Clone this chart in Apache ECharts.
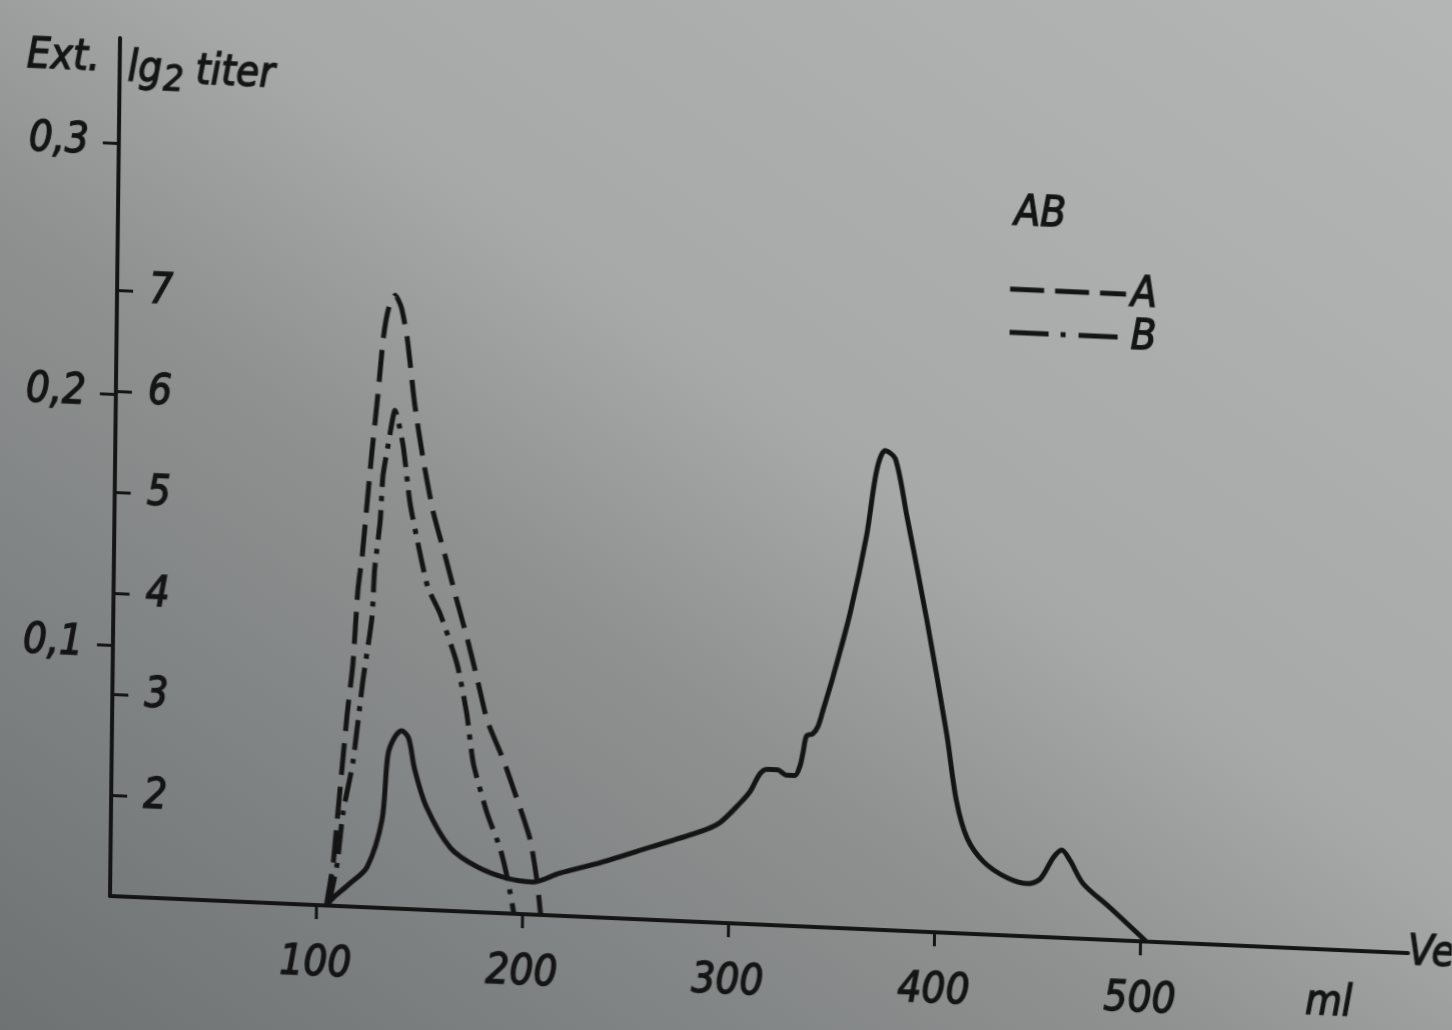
<!DOCTYPE html>
<html>
<head>
<meta charset="utf-8">
<script src="https://cdn.jsdelivr.net/npm/echarts@6/dist/echarts.min.js"></script>
<style>
html, body { margin:0; padding:0; width:1452px; height:1030px; overflow:hidden;
  background: linear-gradient(to top right, #6e7272 0%, #8f9191 40%, #a7a9a9 57%, #b4b6b5 100%); }
#chart { position:absolute; left:0; top:0; width:1452px; height:1030px;
  transform-origin: 110px 896px; transform: matrix(1, 0.044, -0.0117, 1, 0, 0); }
</style>
</head>
<body>
<div id="chart"></div>
<script>
// ---- data (elution volume in ml) ----
const solidMl  = [105,108,116,124.5,131.5,134,137,140.5,144,147,153,165,178,192.5,205,218,238,262,286,295.5,305,310,314.5,318,323,327.5,331.5,334,335.5,337,340,342.5,345,349.5,357.5,365,369.5,373.5,378.5,384.5,394.5,405,410,415.5,423.5,435,445,451,457.5,461.5,465.5,472,485,503];
const solidExt = [0,0.003,0.009,0.016,0.035,0.061,0.068,0.071,0.068,0.056,0.041,0.025,0.018,0.014,0.013,0.017,0.022,0.029,0.036,0.040,0.048,0.053,0.060,0.062,0.062,0.060,0.060,0.064,0.070,0.076,0.077,0.080,0.087,0.100,0.126,0.157,0.183,0.191,0.188,0.165,0.125,0.079,0.053,0.038,0.029,0.023,0.021,0.023,0.032,0.035,0.031,0.022,0.013,0];

const aMl    = [105,108,110,112,114,116.5,118.5,120.5,122.5,124.5,127,129.5,132,135,138,141,145,149.5,154.5,161.5,166.5,172,177,182,190,197,203.5,207,209];
const aTiter = [1.0,1.41,1.91,2.41,2.9,3.4,4.13,4.5,5.0,5.5,6.05,6.65,6.95,7.07,6.95,6.65,6.0,5.45,4.95,4.45,4.08,3.69,3.3,2.9,2.52,2.13,1.74,1.34,1.0];

const bMl    = [106,110,112.5,117,121.5,125.5,126.5,129,130,132.5,135.5,139.5,143.3,148.4,152.5,158.5,167,172,175.5,182.5,189,193,196];
const bTiter = [1.0,1.42,1.92,2.42,3.25,3.87,4.34,4.84,5.27,5.6,5.93,5.6,5.02,4.53,4.19,3.94,3.45,2.96,2.47,1.98,1.64,1.32,1.0];

const xTickValues     = [100,200,300,400,500];
const extTickValues   = [0.1,0.2,0.3];
const titerTickValues = [2,3,4,5,6,7];

// ---- chart ----
const zip = (xs, ys) => xs.map((x, i) => [x, ys[i]]);
const INK = '#141414';
const FONT = "'DejaVu Sans Condensed', 'Liberation Sans Narrow', 'DejaVu Sans', sans-serif";
const txt = { fontFamily: FONT, fontStyle: 'italic', fontWeight: 'normal', fontSize: 42, color: INK,
              textBorderColor: INK, textBorderWidth: 1.3 };

const chart = echarts.init(document.getElementById('chart'), null, { renderer: 'canvas' });
chart.setOption({
  animation: false,
  backgroundColor: 'transparent',
  grid: { left: 110, right: 44, top: 38, bottom: 134, containLabel: false, outerBoundsMode: 'none' },
  title: { text: 'AB', left: 1006, top: 153, padding: 0, textStyle: Object.assign({}, txt) },
  legend: {
    data: [
      { name: 'A', lineStyle: { type: [34, 11], width: 5, color: INK } },
      { name: 'B', lineStyle: { type: [39, 12, 5, 13], width: 5, color: INK } }
    ],
    orient: 'vertical', left: 1000, top: 228, padding: 0,
    itemWidth: 116, itemHeight: 20, itemGap: 0, selectedMode: false,
    itemStyle: { color: 'rgba(0,0,0,0)', borderWidth: 0, opacity: 0 },
    textStyle: Object.assign({}, txt, { lineHeight: 43 })
  },
  xAxis: {
    type: 'value', min: 0, max: 630,
    name: 'Ve', nameLocation: 'end', nameGap: 0,
    nameTextStyle: Object.assign({}, txt, { align: 'left', verticalAlign: 'middle', padding: [18, 0, 0, 0] }),
    axisLine: { show: true, onZero: false, lineStyle: { color: INK, width: 4 } },
    axisTick: { show: true, customValues: xTickValues, length: 14, lineStyle: { color: INK, width: 3 } },
    axisLabel: Object.assign({ customValues: xTickValues, margin: 38, formatter: v => String(v) }, txt),
    splitLine: { show: false }
  },
  yAxis: [
    {
      type: 'value', min: 0, max: 0.342, position: 'left', offset: 0,
      name: 'Ext.', nameLocation: 'end', nameGap: -22,
      nameTextStyle: Object.assign({}, txt, { align: 'right', verticalAlign: 'middle', padding: [0, 20, 0, 0] }),
      axisLine: { show: true, onZero: false, lineStyle: { color: INK, width: 4 } },
      axisTick: { show: true, customValues: extTickValues, length: 16, lineStyle: { color: INK, width: 3 } },
      axisLabel: Object.assign({ customValues: extTickValues, margin: 30, formatter: v => v.toFixed(1).replace('.', ',') }, txt),
      splitLine: { show: false }
    },
    {
      type: 'value', min: 1, max: 9.495, position: 'left', offset: 0,
      name: '{a|lg}{b|2}{a| titer}', nameLocation: 'end', nameGap: -31,
      nameTextStyle: Object.assign({}, txt, {
        align: 'left', verticalAlign: 'middle', padding: [0, 0, 0, 8],
        rich: {
          a: Object.assign({}, txt),
          b: Object.assign({}, txt, { fontSize: 36, padding: [20, 0, 0, 1] })
        }
      }),
      axisLine: { show: false },
      axisTick: { show: true, inside: true, customValues: titerTickValues, length: 16, lineStyle: { color: INK, width: 3 } },
      axisLabel: Object.assign({ inside: true, customValues: titerTickValues, margin: 32, formatter: v => String(v) }, txt),
      splitLine: { show: false }
    }
  ],
  graphic: [
    { type: 'text', left: 1305, top: 928, silent: true,
      style: { text: 'ml', font: 'italic 42px ' + FONT, fill: INK, stroke: INK, lineWidth: 1.3 } }
  ],
  series: [
    { name: 'Ext', type: 'line', yAxisIndex: 0, data: zip(solidMl, solidExt),
      smooth: 0.3, symbol: 'none', showSymbol: false,
      lineStyle: { color: INK, width: 5 } },
    { name: 'A', type: 'line', yAxisIndex: 1, data: zip(aMl, aTiter),
      smooth: 0.2, symbol: 'none', showSymbol: false, itemStyle: { color: INK },
      lineStyle: { color: INK, width: 5, type: [32, 12] } },
    { name: 'B', type: 'line', yAxisIndex: 1, data: zip(bMl, bTiter),
      smooth: 0.2, symbol: 'none', showSymbol: false, itemStyle: { color: INK },
      lineStyle: { color: INK, width: 5, type: [30, 9, 5, 9] } }
  ]
});
</script>
</body>
</html>
